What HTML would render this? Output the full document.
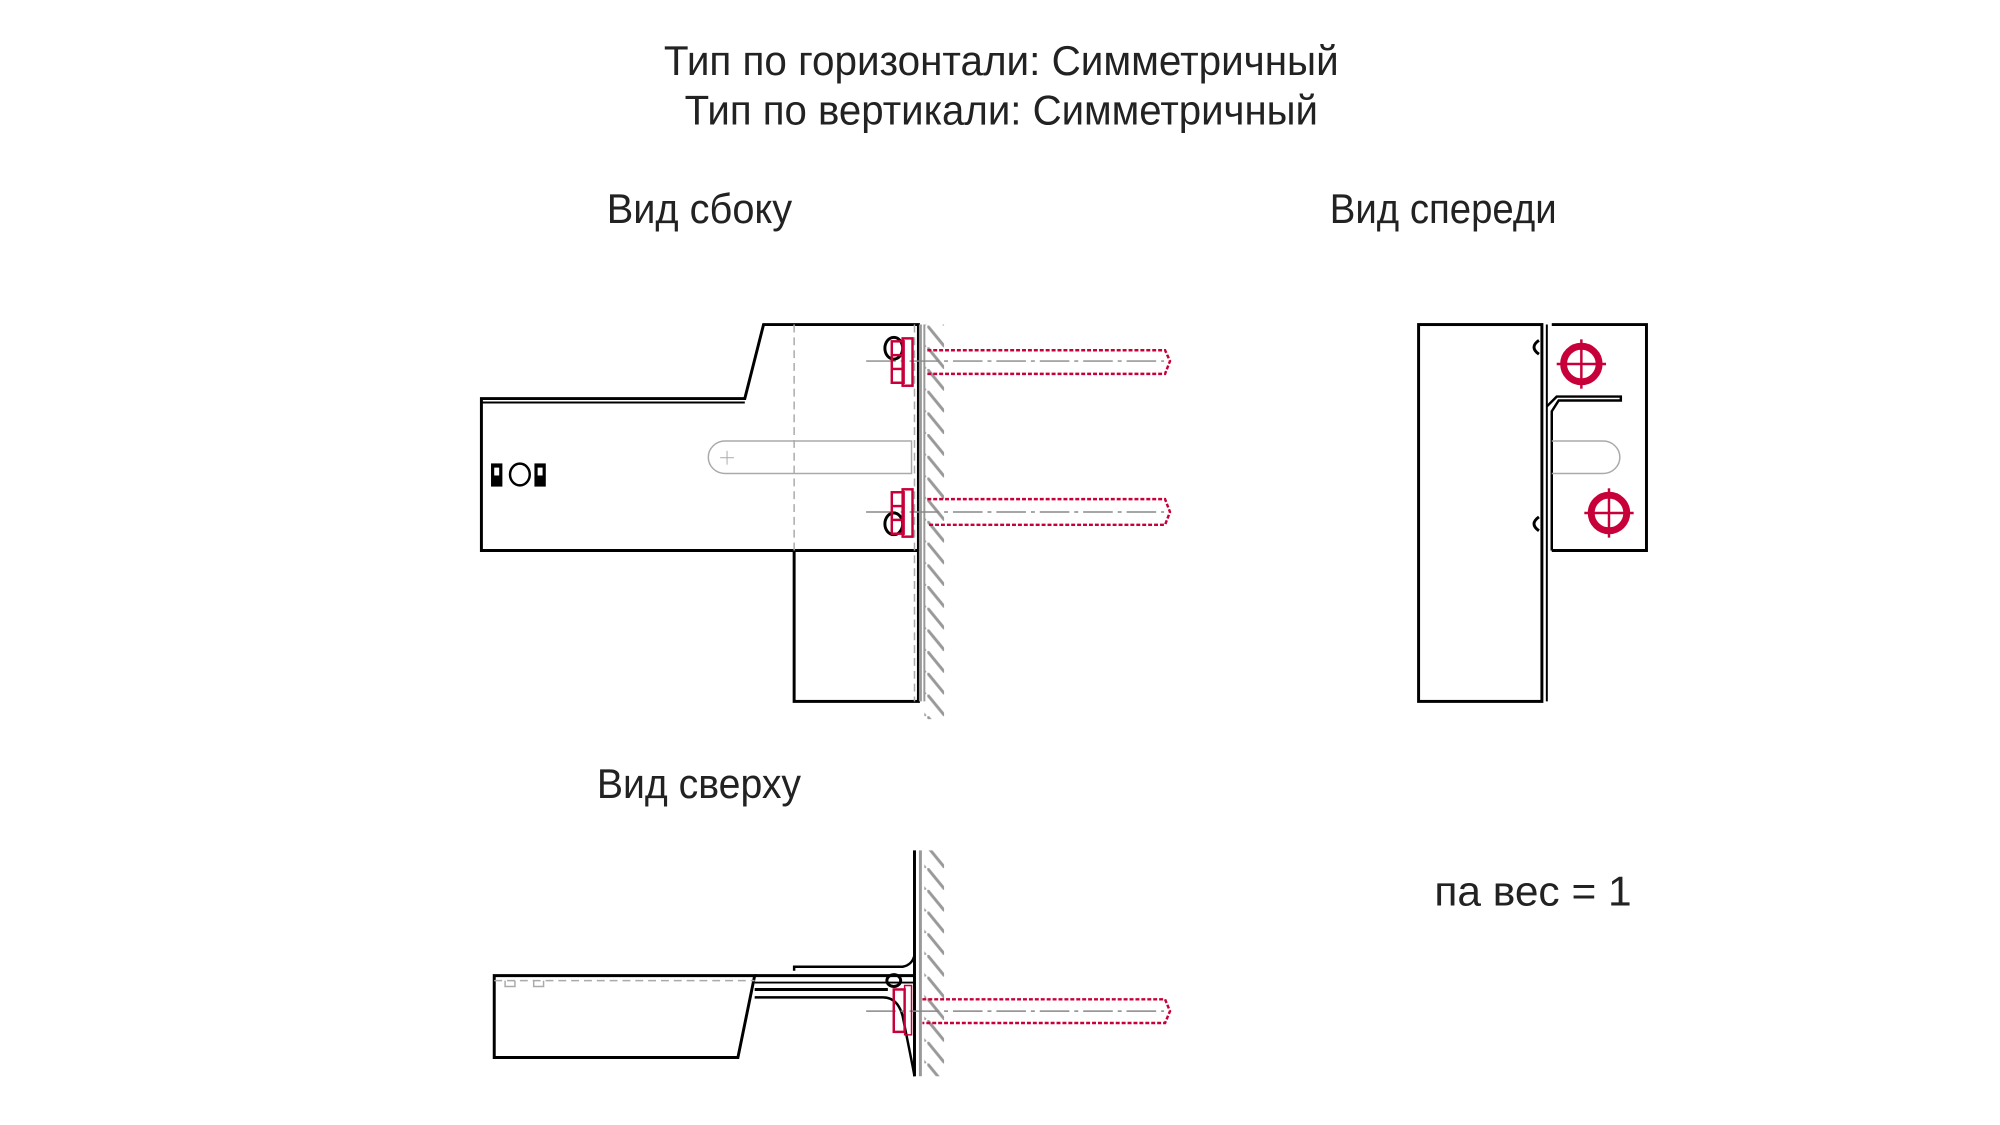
<!DOCTYPE html>
<html><head><meta charset="utf-8"><style>
html,body{margin:0;padding:0;background:#fff;}
svg{display:block;}
text{font-family:"Liberation Sans","DejaVu Sans",sans-serif;fill:#222;font-size:42px;}
</style></head><body>
<svg width="2000" height="1125" viewBox="0 0 2000 1125" xmlns="http://www.w3.org/2000/svg">
<defs>
<pattern id="hatch" x="0" y="0" width="20" height="22" patternUnits="userSpaceOnUse">
<line x1="0" y1="0" x2="18" y2="22" stroke="#999" stroke-width="3"/>
</pattern>
</defs>
<g transform="scale(0.9865)">
<text x="673" y="76" textLength="684" lengthAdjust="spacingAndGlyphs">Тип по горизонтали: Симметричный</text>
<text x="694" y="126" textLength="642" lengthAdjust="spacingAndGlyphs">Тип по вертикали: Симметричный</text>
<text x="615" y="226" textLength="188" lengthAdjust="spacingAndGlyphs">Вид сбоку</text>
<text x="1348" y="226" textLength="230" lengthAdjust="spacingAndGlyphs">Вид спереди</text>
<text x="605" y="809" textLength="207" lengthAdjust="spacingAndGlyphs">Вид сверху</text>
<text x="1454" y="918" textLength="200" lengthAdjust="spacingAndGlyphs">па вес = 1</text>

<!-- SIDE VIEW -->
<g fill="none" stroke="#000" stroke-width="3">
<path d="M488 404 H755 L774 329 H931 V558 H488 Z"/>
<line x1="488" y1="408" x2="755" y2="408" stroke-width="2"/>
<rect x="805" y="558" width="126" height="153"/>
</g>
<line x1="805" y1="329" x2="805" y2="558" stroke="#aaa" stroke-width="1.5" stroke-dasharray="8,5"/>
<line x1="927" y1="329" x2="927" y2="711" stroke="#aaa" stroke-width="1.5" stroke-dasharray="8,5"/>
<path d="M735 447 H924 V480 H735 A17 16.5 0 0 1 735 447 Z" fill="none" stroke="#aaa" stroke-width="1.5"/>
<line x1="730" y1="464" x2="744" y2="464" stroke="#aaa"/><line x1="737" y1="457" x2="737" y2="471" stroke="#aaa"/>
<g stroke="#000" stroke-width="2.5" fill="none">
<rect x="499" y="471" width="9" height="21" fill="#000"/><rect x="501" y="474" width="5" height="8" fill="#fff" stroke="none"/>
<ellipse cx="527" cy="481" rx="10" ry="11"/>
<rect x="543" y="471" width="9" height="21" fill="#000"/><rect x="545" y="474" width="5" height="8" fill="#fff" stroke="none"/>
</g>
<line x1="933" y1="329" x2="933" y2="711" stroke="#999" stroke-width="3"/>
<line x1="937" y1="329" x2="937" y2="711" stroke="#999" stroke-width="2"/>
<rect x="937" y="329" width="20" height="400" fill="url(#hatch)"/>
<g>
<line x1="878" y1="366" x2="1180" y2="366" stroke="#888" stroke-width="1.5" stroke-dasharray="30,5,4,5"/>
<line x1="878" y1="519" x2="1180" y2="519" stroke="#888" stroke-width="1.5" stroke-dasharray="30,5,4,5"/>
<ellipse cx="906" cy="353" rx="9" ry="11" fill="none" stroke="#000" stroke-width="3"/>
<ellipse cx="906" cy="531" rx="9" ry="11" fill="none" stroke="#000" stroke-width="3"/>
<g fill="none" stroke="#c8003a" stroke-width="2.5">
<path d="M940 355 H1181 L1186 366 L1181 379 H940" stroke-dasharray="4,2"/>
<path d="M940 506 H1181 L1186 519 L1181 532 H940" stroke-dasharray="4,2"/>
<rect x="904" y="346" width="12" height="42"/><rect x="915" y="343" width="10" height="48"/>
<rect x="904" y="499" width="12" height="42"/><rect x="915" y="496" width="10" height="48"/>
<line x1="904" y1="360" x2="916" y2="360"/><line x1="904" y1="374" x2="916" y2="374"/>
<line x1="904" y1="513" x2="916" y2="513"/><line x1="904" y1="527" x2="916" y2="527"/>
</g>
</g>

<!-- FRONT VIEW -->
<g fill="none" stroke="#000" stroke-width="3">
<rect x="1438" y="329" width="125" height="382"/>
<line x1="1568" y1="329" x2="1568" y2="711" stroke-width="2"/>
<path d="M1573 329 H1669 V558 H1573"/>
<path d="M1573 558 V417 L1580 406 H1643 V402 H1578 L1568 412" stroke-width="2.5"/>
</g>
<path d="M1573 447 H1625 A17 16.5 0 0 1 1625 480 H1573" fill="none" stroke="#aaa" stroke-width="1.5"/>
<g fill="none" stroke="#000" stroke-width="3">
<path d="M1560 345 Q1550 352 1560 359"/><path d="M1560 524 Q1550 531 1560 538"/>
</g>
<g stroke="#c8003a" fill="none">
<circle cx="1603" cy="369" r="18" stroke-width="7"/>
<line x1="1578" y1="369" x2="1628" y2="369" stroke-width="2.5"/><line x1="1603" y1="344" x2="1603" y2="394" stroke-width="2.5"/>
<circle cx="1631" cy="520" r="18" stroke-width="7"/>
<line x1="1606" y1="520" x2="1656" y2="520" stroke-width="2.5"/><line x1="1631" y1="495" x2="1631" y2="545" stroke-width="2.5"/>
</g>

<!-- TOP VIEW -->
<g fill="none" stroke="#000" stroke-width="3">
<path d="M501 989 H765 L748 1072 H501 Z"/>
<path d="M765 989 H927"/>
<path d="M765 1003 H900"/>
<path d="M765 996 H927" stroke-width="2"/>
<path d="M805 984 V980 H915 Q925 978 927 968" stroke-width="2.5"/>
<path d="M765 1011 H895 Q910 1011 915 1030 L922 1065 Q926 1085 927 1091" stroke-width="2.5"/>
<line x1="927" y1="862" x2="927" y2="1091" stroke-width="3"/>
<ellipse cx="906" cy="994" rx="7" ry="6"/>
</g>
<line x1="501" y1="994" x2="765" y2="994" stroke="#aaa" stroke-width="1.5" stroke-dasharray="8,5"/>
<path d="M512 994 V1000 H522 V994 M541 994 V1000 H551 V994" fill="none" stroke="#aaa" stroke-width="1.5"/>
<line x1="933" y1="862" x2="933" y2="1091" stroke="#999" stroke-width="3"/>
<rect x="937" y="862" width="20" height="229" fill="url(#hatch)"/>
<line x1="878" y1="1025" x2="1180" y2="1025" stroke="#888" stroke-width="1.5" stroke-dasharray="30,5,4,5"/>
<g fill="none" stroke="#c8003a" stroke-width="2.5">
<path d="M935 1013 H1181 L1186 1025 L1181 1037 H935" stroke-dasharray="4,2"/>
<rect x="906" y="1003" width="11" height="43"/><rect x="917" y="999" width="7" height="50" stroke-width="1.5"/>
</g>
</g>
</svg>
</body></html>
